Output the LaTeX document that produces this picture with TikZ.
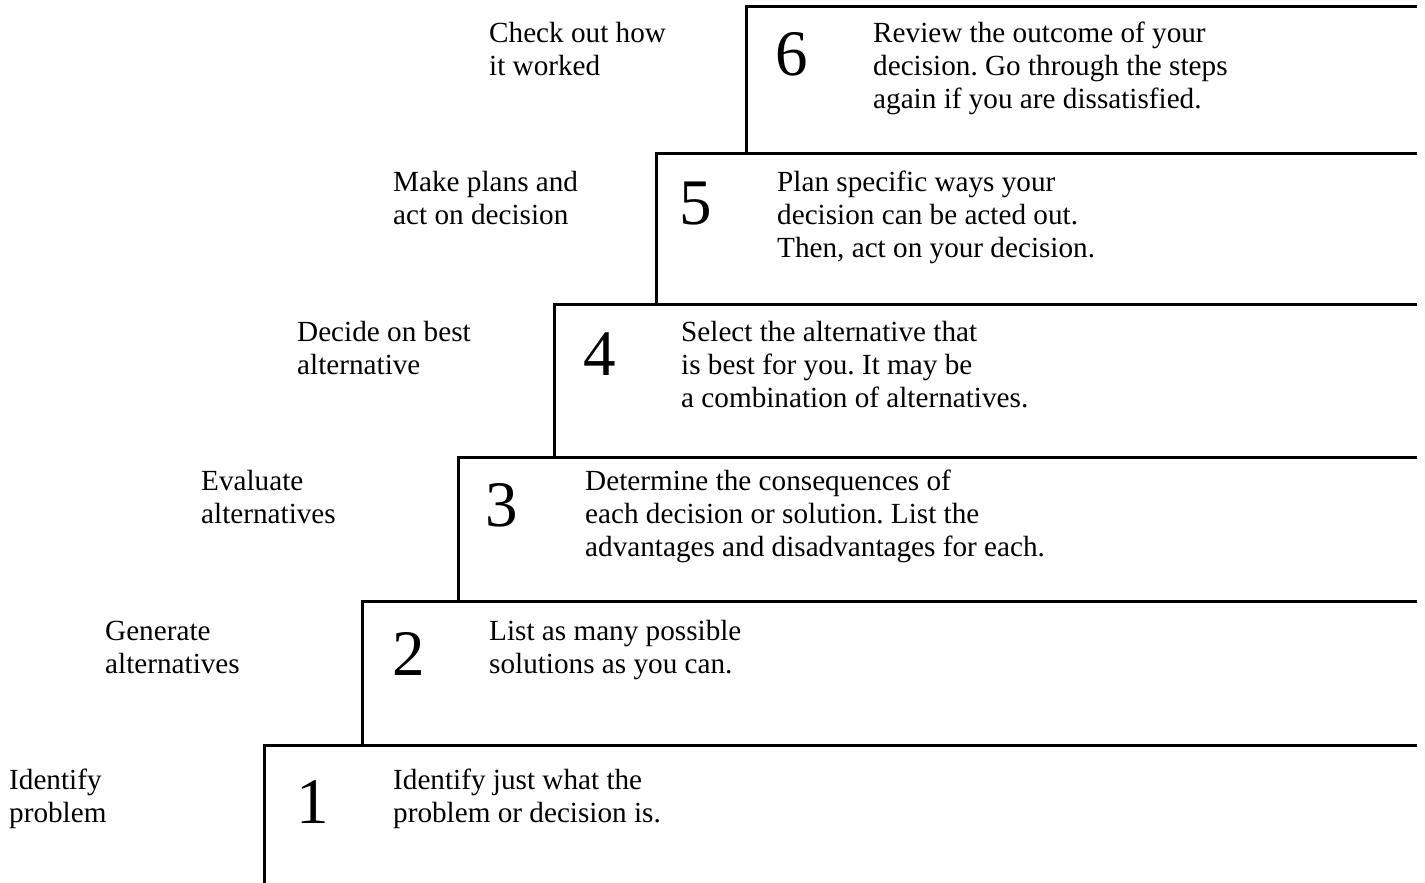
\documentclass[tikz,border=0pt]{standalone}
\usepackage{fontspec}
\setmainfont{Liberation Serif}
\frenchspacing
\newcommand{\mylines}[1]{\begin{tabular}[t]{@{}l@{}}#1\end{tabular}}
\tikzset{
  txt/.style={anchor=base west, inner sep=0pt, font=\fontsize{29.2}{33}\selectfont},
  num/.style={anchor=base, inner sep=0pt, font=\fontsize{65}{70}\selectfont},
  stair/.style={line width=3pt, line join=miter, line cap=butt}
}
\begin{document}
\begin{tikzpicture}[x=1pt,y=-1pt]
\useasboundingbox (0,0) rectangle (1425,883);
% stair lines
\coordinate (r6) at (1417,6.5);
\draw[stair] (746,154.5) -- (746,6.5) -- (r6);
\draw[stair] (656,305.5) -- (656,153) -- (1417,153);
\draw[stair] (554,458.5) -- (554,304) -- (1417,304);
\draw[stair] (458,602.5) -- (458,457) -- (1417,457);
\draw[stair] (362,746.5) -- (362,601) -- (1417,601);
\draw[stair] (264,890) -- (264,745) -- (1417,745);
% labels
\node[txt] (l6) at (489,43) {\mylines{Check out how\\it worked}};
\node[txt] (l5) at (393,191) {\mylines{Make plans and\\act on decision}};
\node[txt] (l4) at (297,341) {\mylines{Decide on best\\alternative}};
\node[txt] (l3) at (201,490) {\mylines{Evaluate\\alternatives}};
\node[txt] (l2) at (105,640) {\mylines{Generate\\alternatives}};
\node[txt] (l1) at (9,789) {\mylines{Identify\\problem}};
% numbers
\node[num] (n6) at (792,76) {6};
\node[num] (n5) at (696,224) {5};
\node[num] (n4) at (600,375) {4};
\node[num] (n3) at (502,526) {3};
\node[num] (n2) at (409,675) {2};
\node[num] (n1) at (313,823) {1};
% descriptions
\node[txt] (d6) at (873,43) {\mylines{Review the outcome of your\\decision. Go through the steps\\again if you are dissatisfied.}};
\node[txt] (d5) at (777,191) {\mylines{Plan specific ways your\\decision can be acted out.\\Then, act on your decision.}};
\node[txt] (d4) at (681,341) {\mylines{Select the alternative that\\is best for you. It may be\\a combination of alternatives.}};
\node[txt] (d3) at (585,490) {\mylines{Determine the consequences of\\each decision or solution. List the\\advantages and disadvantages for each.}};
\node[txt] (d2) at (489,640) {\mylines{List as many possible\\solutions as you can.}};
\node[txt] (d1) at (393,789) {\mylines{Identify just what the\\problem or decision is.}};
\end{tikzpicture}
\end{document}
